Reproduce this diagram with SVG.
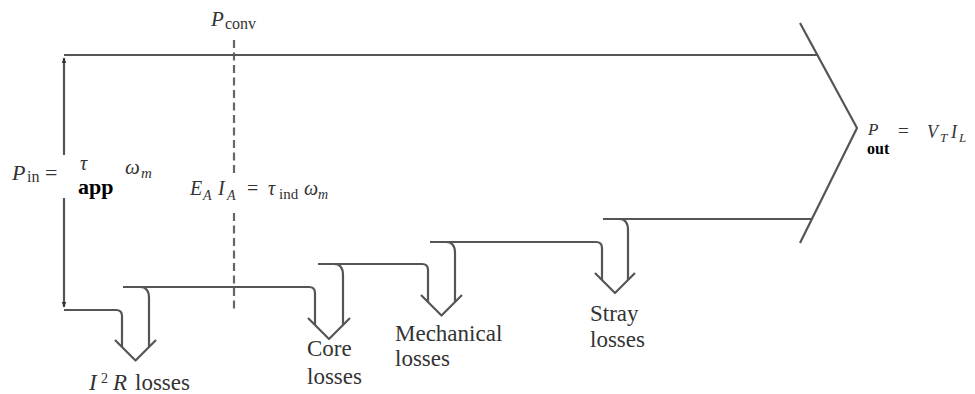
<svg xmlns="http://www.w3.org/2000/svg" width="975" height="394" viewBox="0 0 975 394">
<style>
.ln{fill:none;stroke:#555;stroke-width:2.2;stroke-linejoin:round;stroke-linecap:butt}
.dash{fill:none;stroke:#666;stroke-width:2.2;stroke-dasharray:8 4.5}
.t{font-family:"Liberation Serif","Times New Roman",serif;fill:#333}
.i{font-style:italic}
.b{font-weight:bold;fill:#000}
</style>
<defs>
<marker id="ah" viewBox="0 0 10 10" refX="9" refY="5" markerWidth="6" markerHeight="6" markerUnits="userSpaceOnUse" orient="auto">
<path d="M0,1 L10,5 L0,9 Z" fill="#333"/>
</marker>
</defs>
<rect width="975" height="394" fill="#fff"/>
<g id="connectors">
<line class="ln" x1="64" y1="155" x2="64" y2="58" marker-end="url(#ah)"/>
<line class="ln" x1="64" y1="198" x2="64" y2="307" marker-end="url(#ah)"/>
<path class="dash" d="M234,40 V176 M234,213 V313"/>
</g>
<g id="main-flow">
<path class="ln" d="M64,55 H817"/>
<path class="ln" d="M800,23 L857,128 L800,243"/>
<path class="ln" d="M603,219 H812"/>
</g>
<g id="i2r-loss">
<path class="ln" d="M64,310 H116 Q122,310 122,316 V347"/>
<path class="ln" d="M140,287 C146,287 149,291 149,298 V347"/>
<path class="ln" d="M115,340 L135.5,360.5 L156,340"/>
</g>
<g id="core-loss">
<path class="ln" d="M123,287 H309 Q315,287 315,293 V325"/>
<path class="ln" d="M334,264 C340,264 343,268 343,275 V325"/>
<path class="ln" d="M308,318 L329,339 L350,318"/>
</g>
<g id="mech-loss">
<path class="ln" d="M318,264 H422 Q428,264 428,270 V302"/>
<path class="ln" d="M446,242 C452,242 455,246 455,253 V302"/>
<path class="ln" d="M421,295 L441.5,315.5 L462,295"/>
</g>
<g id="stray-loss">
<path class="ln" d="M430,242 H596 Q602,242 602,248 V280"/>
<path class="ln" d="M619,219 C625,219 628,223 628,230 V280"/>
<path class="ln" d="M595,273 L615,293 L635,273"/>
</g>
<g id="label-pconv">
<text class="t i" x="211" y="26" font-size="21">P</text>
<text class="t" x="225" y="29" font-size="16">conv</text>
</g>
<g id="label-pin">
<text class="t i" x="12" y="180" font-size="22">P</text>
<text class="t" x="27" y="182" font-size="16">in</text>
<text class="t" x="45" y="180" font-size="22">=</text>
<text class="t i" x="80" y="170" font-size="20">τ</text>
<text class="t i" x="125" y="174" font-size="21">ω</text>
<text class="t i" x="141" y="178" font-size="15">m</text>
<text class="t b" x="78" y="194" font-size="22">app</text>
</g>
<g id="label-conv-eq">
<text class="t i" x="190" y="195" font-size="20">E</text>
<text class="t i" x="203" y="200" font-size="14">A</text>
<text class="t i" x="218" y="195" font-size="20">I</text>
<text class="t i" x="227" y="200" font-size="14">A</text>
<text class="t" x="247" y="195" font-size="20">=</text>
<text class="t i" x="268" y="195" font-size="20">τ</text>
<text class="t" x="279" y="199" font-size="15">ind</text>
<text class="t i" x="304" y="195" font-size="20">ω</text>
<text class="t i" x="318" y="199" font-size="14">m</text>
</g>
<g id="label-pout">
<text class="t i" x="868" y="135" font-size="17">P</text>
<text class="t b" x="867" y="154" font-size="16">out</text>
<text class="t" x="898" y="137" font-size="19">=</text>
<text class="t i" x="927" y="138" font-size="18">V</text>
<text class="t i" x="940" y="142" font-size="13">T</text>
<text class="t i" x="951" y="138" font-size="18">I</text>
<text class="t i" x="959" y="142" font-size="13">L</text>
</g>
<g id="label-i2r">
<text class="t i" x="89" y="390" font-size="23">I</text>
<text class="t" x="101" y="383" font-size="14">2</text>
<text class="t i" x="113" y="390" font-size="23">R</text>
<text class="t" x="135" y="390" font-size="23">losses</text>
</g>
<g id="label-core">
<text class="t" x="307" y="356" font-size="23">Core</text>
<text class="t" x="307" y="384" font-size="23">losses</text>
</g>
<g id="label-mech">
<text class="t" x="395" y="341" font-size="23">Mechanical</text>
<text class="t" x="395" y="366" font-size="23">losses</text>
</g>
<g id="label-stray">
<text class="t" x="590" y="321" font-size="23">Stray</text>
<text class="t" x="590" y="347" font-size="23">losses</text>
</g>
</svg>
